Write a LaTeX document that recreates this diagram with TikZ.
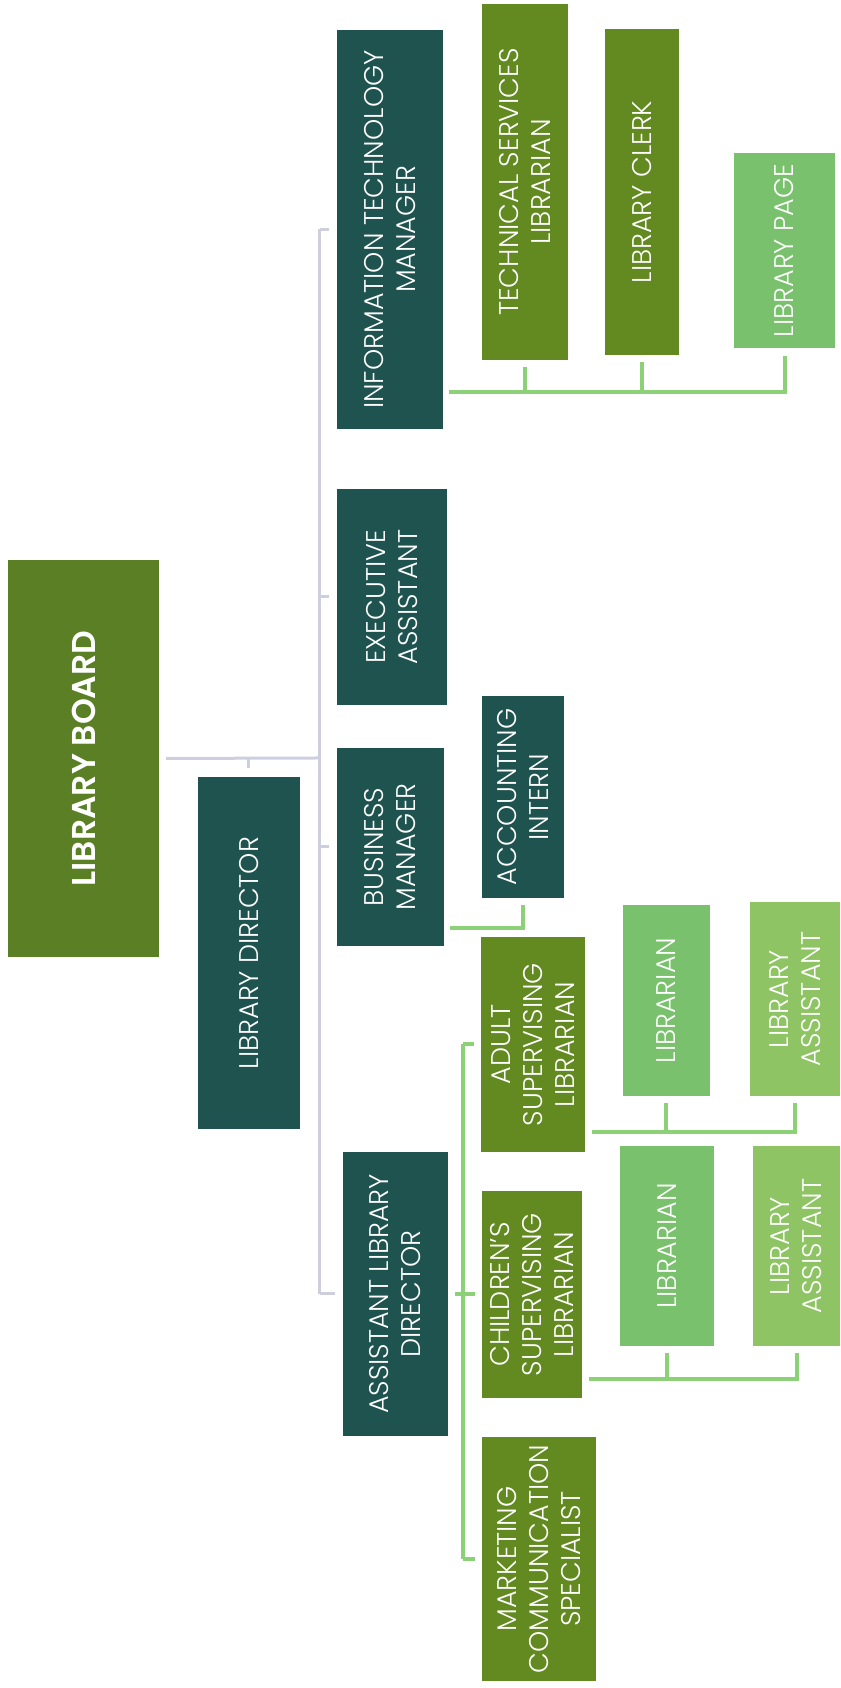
\documentclass[tikz,border=0pt]{standalone}
\usepackage{fontspec}
\setmainfont{Poppins}[UprightFont={* Light}, BoldFont={* SemiBold}]
\definecolor{boardgreen}{RGB}{90,127,37}
\definecolor{deepteal}{RGB}{31,83,80}
\definecolor{olive}{RGB}{98,138,32}
\definecolor{leaf}{RGB}{122,193,110}
\definecolor{pale}{RGB}{142,196,100}
\definecolor{busgrey}{RGB}{205,207,222}
\definecolor{linkgreen}{RGB}{140,208,120}
\tikzset{
  box/.style={rectangle, inner sep=0pt, align=center, text=white,
    font=\fontsize{27}{32}\selectfont},
  boardbox/.style={box, fill=boardgreen, font=\fontsize{33}{38}\selectfont\bfseries},
  tealbox/.style={box, fill=deepteal},
  olivebox/.style={box, fill=olive},
  leafbox/.style={box, fill=leaf},
  palebox/.style={box, fill=pale},
  greyline/.style={draw=busgrey, line width=3pt},
  greenline/.style={draw=linkgreen, line width=4pt},
}
\begin{document}
\begin{tikzpicture}[x=1pt, y=1pt, rotate=90, every node/.style={transform shape}]
  \useasboundingbox (0,0) rectangle (1688,840);
  %
  \node[boardbox, minimum width=397pt, minimum height=151pt] (LB) at (929.5,756.5) {LIBRARY BOARD};
  \node[tealbox, minimum width=352pt, minimum height=102pt] (LD) at (735,591) {LIBRARY DIRECTOR};
  %
  \node[tealbox, minimum width=399pt, minimum height=106pt] (ITM) at (1458.5,450) {INFORMATION TECHNOLOGY\\MANAGER};
  \node[tealbox, minimum width=216pt, minimum height=110pt] (EA) at (1091,448) {EXECUTIVE\\ASSISTANT};
  \node[tealbox, minimum width=198pt, minimum height=107pt] (BM) at (841,449.5) {BUSINESS\\MANAGER};
  \node[tealbox, minimum width=284pt, minimum height=105pt] (ALD) at (394,444.5) {ASSISTANT LIBRARY\\DIRECTOR};
  %
  \node[olivebox, minimum width=356pt, minimum height=86pt] (TSL) at (1506,315) {TECHNICAL SERVICES\\LIBRARIAN};
  \node[olivebox, minimum width=326pt, minimum height=74pt] (LC) at (1496,198) {LIBRARY CLERK};
  \node[leafbox, minimum width=195pt, minimum height=101pt] (LP) at (1437.5,55.5) {LIBRARY PAGE};
  \node[tealbox, minimum width=202pt, minimum height=82pt] (AI) at (891,317) {ACCOUNTING\\INTERN};
  \node[olivebox, minimum width=215pt, minimum height=104pt] (ASL) at (643.5,307) {ADULT\\SUPERVISING\\LIBRARIAN};
  \node[olivebox, minimum width=207pt, minimum height=100pt] (CSL) at (393.5,308) {CHILDREN'S\\SUPERVISING\\LIBRARIAN};
  \node[olivebox, minimum width=244pt, minimum height=114pt] (MCS) at (129,301) {MARKETING\\COMMUNICATION\\SPECIALIST};
  %
  \node[leafbox, minimum width=191pt, minimum height=87pt] (LibA) at (687.5,173.5) {LIBRARIAN};
  \node[palebox, minimum width=194pt, minimum height=90pt] (AssA) at (689,45) {LIBRARY\\ASSISTANT};
  \node[leafbox, minimum width=200pt, minimum height=94pt] (LibC) at (442,173) {LIBRARIAN};
  \node[palebox, minimum width=200pt, minimum height=87pt] (AssC) at (442,43.5) {LIBRARY\\ASSISTANT};
  %
  \coordinate (hub) at (930,520);       % grey bus
  \coordinate (itx) at (1296,0);        % drops
  \coordinate (bmx) at (760,0);
  \coordinate (aldbus) at (0,377);
  \coordinate (aslx) at (556,0);
  \coordinate (cslx) at (309,0);
  %
  \draw[greyline, shorten <=7pt] (LB.south) -- (hub);
  \draw[greyline, shorten >=9pt] (LB.south |- LD) -- (LD.east);
  \draw[greyline] (ALD |- hub) -- (ITM |- hub);
  \foreach \n in {ITM,EA,BM,ALD}
    \draw[greyline, shorten >=8pt] (\n |- hub) -- (\n.north);
  %
  \draw[greenline, shorten <=6pt, shorten >=8pt] (ITM.south -| itx) -- (itx |- LP) -- (LP.west);
  \foreach \n in {TSL,LC}
    \draw[greenline, shorten >=7pt] (itx |- \n) -- (\n.west);
  %
  \draw[greenline, shorten <=6pt, shorten >=7pt] (BM.south -| bmx) |- (AI.west);
  %
  \draw[greenline] (MCS |- aldbus) -- (ASL |- aldbus);
  \draw[greenline, shorten <=7pt] (ALD.south) -- (ALD |- aldbus);
  \foreach \n in {ASL,CSL,MCS}
    \draw[greenline, shorten >=7pt] (\n |- aldbus) -- (\n.north);
  %
  \draw[greenline, shorten <=7pt, shorten >=7pt] (ASL.south -| aslx) -- (aslx |- AssA) -- (AssA.west);
  \draw[greenline, shorten >=7pt] (aslx |- LibA) -- (LibA.west);
  \draw[greenline, shorten <=7pt, shorten >=7pt] (CSL.south -| cslx) -- (cslx |- AssC) -- (AssC.west);
  \draw[greenline, shorten >=7pt] (cslx |- LibC) -- (LibC.west);
\end{tikzpicture}
\end{document}
